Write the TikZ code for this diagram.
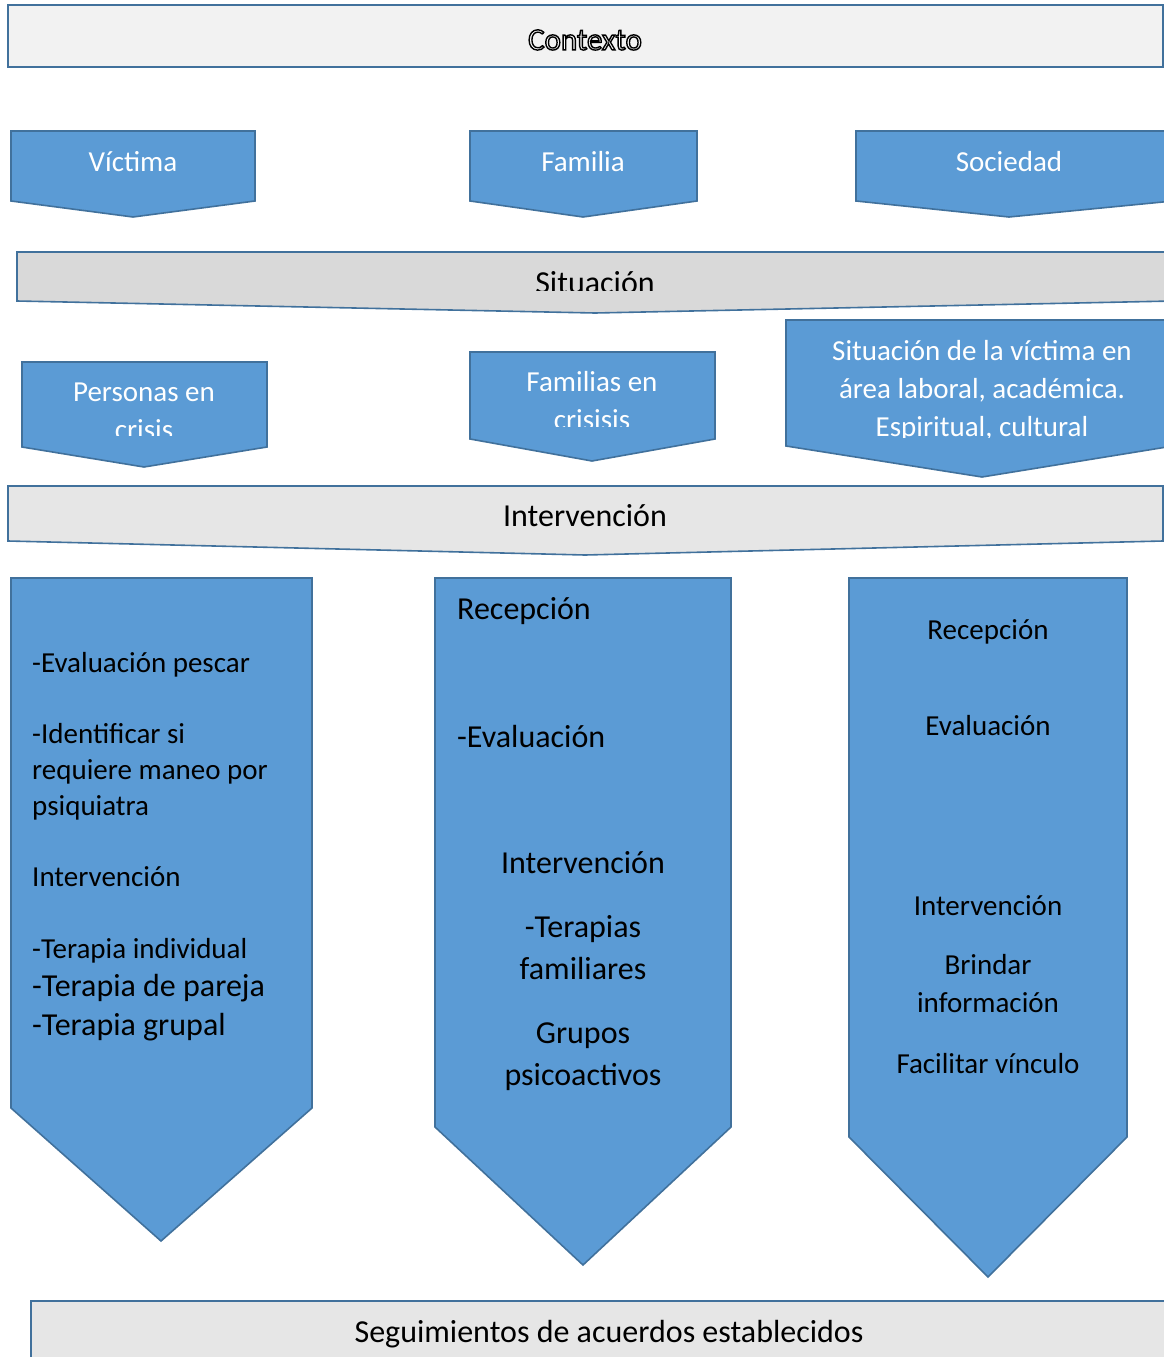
\documentclass[tikz,border=0pt]{standalone}
\usepackage{fontspec}
\setmainfont{Carlito}
\definecolor{chevblue}{HTML}{5B9BD5}
\definecolor{chevedge}{HTML}{41719C}
\definecolor{ctxgray}{HTML}{F2F2F2}
\definecolor{sitgray}{HTML}{D9D9D9}
\definecolor{intgray}{HTML}{E6E6E6}
\newcommand{\hollow}[1]{\special{pdf:literal direct 2 Tr 1.4 w 0 G}#1\special{pdf:literal direct 0 Tr}}
\tikzset{
  chev/.style={fill=chevblue, draw=chevedge, line width=1.6pt},
  bar/.style={draw=chevedge, line width=1.6pt},
  wtxt/.style={text=white, font=\fontsize{29}{35}\selectfont, inner sep=0pt, anchor=mid, yshift=-7.5pt},
  btxt/.style={text=black, font=\fontsize{29}{35}\selectfont, inner sep=0pt, anchor=mid west, yshift=-7.5pt},
  ctxt/.style={text=black, font=\fontsize{29}{35}\selectfont, inner sep=0pt, anchor=mid, yshift=-7.5pt},
  big/.style={font=\fontsize{32}{38}\selectfont},
  ctxfont/.style={font=\fontsize{31}{36}\selectfont, inner sep=0pt, anchor=mid, yshift=-7.5pt}
}
\begin{document}
\begin{tikzpicture}[x=1pt,y=-1pt]
\useasboundingbox (0,0) rectangle (1164,1357);

% contexto
\draw[bar, fill=ctxgray] (8,5) rectangle (1163,67);
\node[ctxfont, text=white] (ctx) at (585,40) {\hollow{Contexto}};

% primera fila
\draw[chev] (11,131) -- (255,131) -- (255,201) -- (133,217) -- (11,201) -- cycle;
\draw[chev] (470,131) -- (697,131) -- (697,201) -- (583,217) -- (470,201) -- cycle;
\draw[chev] (856,131) -- (1173,131) -- (1173,201) -- (1009,217) -- (856,201) -- cycle;
\node[wtxt] (victima) at (133,162) {Víctima};
\node[wtxt] (familia) at (583,162) {Familia};
\node[wtxt] (sociedad) at (1009,162) {Sociedad};

% situacion
\draw[bar, fill=sitgray] (17,252) -- (1173,252) -- (1173,301) -- (595,313) -- (17,301) -- cycle;
\begin{scope}
  \clip (17,252) rectangle (1163,290);
  \node[ctxt, big, anchor=base, yshift=7.5pt] (situacion) at (595,293) {Situación};
\end{scope}

% segunda fila
\draw[chev] (22,362) -- (267,362) -- (267,447) -- (144,467) -- (22,447) -- cycle;
\draw[chev] (470,352) -- (715,352) -- (715,439) -- (592,461) -- (470,439) -- cycle;
\draw[chev] (786,320) -- (1173,320) -- (1173,446) -- (982,477) -- (786,446) -- cycle;
\begin{scope}
  \clip (22,362) rectangle (267,435);
  \node[wtxt] (pers1) at (144,392) {Personas en};
  \node[wtxt] (pers2) at (144,430) {crisis};
\end{scope}
\begin{scope}
  \clip (470,352) rectangle (715,426);
  \node[wtxt] (fam1) at (592,382) {Familias en};
  \node[wtxt] (fam2) at (592,420) {crisisis};
\end{scope}
\begin{scope}
  \clip (786,320) rectangle (1164,437);
  \node[wtxt] (sit1) at (982,351) {Situación de la víctima en};
  \node[wtxt] (sit2) at (982,389) {área laboral, académica.};
  \node[wtxt] (sit3) at (982,427) {Espiritual, cultural};
\end{scope}

% intervencion
\draw[bar, fill=intgray] (8,486) -- (1163,486) -- (1163,541) -- (585,555) -- (8,541) -- cycle;
\node[ctxt, big] (interv) at (585,517) {Intervención};

% columnas
\draw[chev] (11,578) -- (312,578) -- (312,1108) -- (161,1241) -- (11,1108) -- cycle;
\draw[chev] (435,578) -- (731,578) -- (731,1127) -- (583,1265) -- (435,1127) -- cycle;
\draw[chev] (849,578) -- (1127,578) -- (1127,1137) -- (988,1277) -- (849,1137) -- cycle;

\node[btxt] (l1) at (32,663) {-Evaluación pescar};
\node[btxt] (l2) at (32,734) {-Identificar si};
\node[btxt] (l3) at (32,770) {requiere maneo por};
\node[btxt] (l4) at (32,806) {psiquiatra};
\node[btxt] (l5) at (32,877) {Intervención};
\node[btxt] (l6) at (32,949) {-Terapia individual};
\node[btxt, big] (l7) at (32,987) {-Terapia de pareja};
\node[btxt, big] (l8) at (32,1026) {-Terapia grupal};

\node[btxt, big] (m1) at (457,610) {Recepción};
\node[btxt, big] (m2) at (457,738) {-Evaluación};
\node[ctxt, big] (m3) at (583,864) {Intervención};
\node[ctxt, big] (m4) at (583,928) {-Terapias};
\node[ctxt, big] (m5) at (583,970) {familiares};
\node[ctxt, big] (m6) at (583,1034) {Grupos};
\node[ctxt, big] (m7) at (583,1076) {psicoactivos};

\node[ctxt] (r1) at (988,630) {Recepción};
\node[ctxt] (r2) at (988,726) {Evaluación};
\node[ctxt] (r3) at (988,906) {Intervención};
\node[ctxt] (r4) at (988,965) {Brindar};
\node[ctxt] (r5) at (988,1003) {información};
\node[ctxt] (r6) at (988,1064) {Facilitar vínculo};

% seguimiento
\draw[bar, fill=intgray] (31,1301) -- (1180,1301) -- (1180,1390) -- (31,1390) -- cycle;
\node[ctxt, big] (seguim) at (609,1333) {Seguimientos de acuerdos establecidos};

\end{tikzpicture}
\end{document}
